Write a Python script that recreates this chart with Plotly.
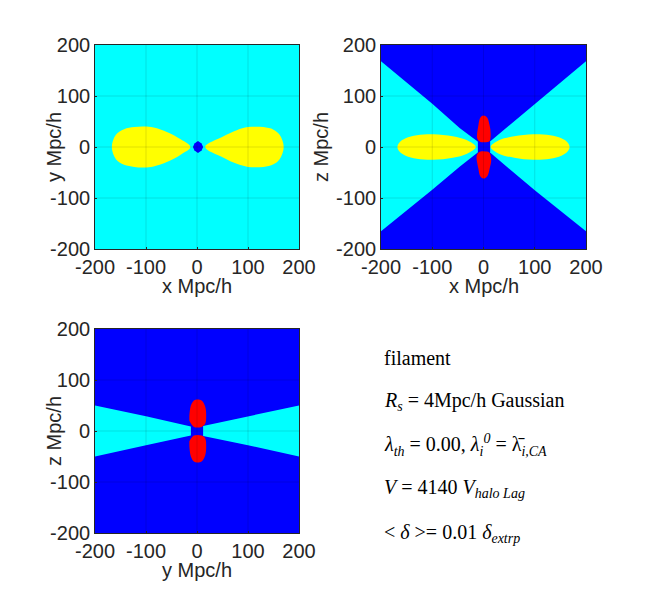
import plotly.graph_objects as go

WIDTH = 650
HEIGHT = 600
# the page body adds this much before the figure starts
PAGE_PAD = 8

CYAN = 'rgb(0,255,255)'
BLUE = 'rgb(0,0,255)'
YELLOW = 'rgb(255,255,0)'
RED = 'rgb(255,0,0)'

tick_vals = [-200, -100, 0, 100, 200]
tick_labels = ['-200', '-100', '0', '100', '200']

# x-y panel outlines
xy_lobe_right_x = [16, 52, 78, 100, 130, 150, 162, 170, 162, 150, 130, 100, 78, 52, 16]
xy_lobe_right_y = [0, 21, 33, 39, 39, 34, 24, 0, -24, -34, -39, -39, -33, -21, 0]
xy_lobe_left_x = [-13, -32, -58, -85, -104, -123, -143, -159, -167, -159, -143, -123, -104, -85, -58, -32, -13]
xy_lobe_left_y = [0, 15, 29, 38, 40, 39, 35, 24, 0, -24, -35, -39, -40, -38, -29, -15, 0]
xy_core_x = [2, 9, 12, 9, 2, -5, -8, -5, 2]
xy_core_y = [12, 7, 0, -7, -12, -7, 0, 7, 12]

# x-z panel outlines
xz_wedge_top_x = [-200, -100, -46, -10, 14, 50, 100, 200, 200, -200, -200]
xz_wedge_top_y = [168, 85, 37, 10, 12, 42, 84, 168, 200, 200, 168]
xz_wedge_bottom_x = [-200, -100, -46, -10, 14, 50, 100, 200, 200, -200, -200]
xz_wedge_bottom_y = [-165, -84, -38, -10, -12, -43, -85, -165, -200, -200, -165]
xz_core_x = [-11, 13, 13, -11, -11]
xz_core_y = [13, 13, -13, -13, 13]
xz_lobe_right_x = [14, 30, 60, 97, 130, 152, 164, 168, 164, 152, 130, 97, 60, 30, 14]
xz_lobe_right_y = [0, 13, 21, 25, 23, 17, 9, 0, -9, -17, -23, -25, -21, -13, 0]
xz_lobe_left_x = [-15, -32, -60, -98, -130, -152, -164, -168, -164, -152, -130, -98, -60, -32, -15]
xz_lobe_left_y = [0, 13, 21, 25, 23, 17, 9, 0, -9, -17, -23, -25, -21, -13, 0]
xz_red_top_x = [-12, -10, -6, 0, 7, 12, 14, 12, 7, -6, -12]
xz_red_top_y = [16, 42, 58, 62, 58, 42, 26, 12, 10, 10, 16]
xz_red_bottom_x = [-13, -10, -6, 0, 7, 12, 15, 12, 7, -6, -13]
xz_red_bottom_y = [-16, -42, -58, -62, -58, -42, -26, -12, -9, -9, -16]

# y-z panel outlines
yz_wedge_left_x = [-200, -100, -12, -12, -100, -200]
yz_wedge_left_y = [50, 29, 9, -9, -28, -50]
yz_wedge_right_x = [200, 100, 12, 12, 100, 200]
yz_wedge_right_y = [50, 29, 10, -10, -28, -50]
yz_red_top_x = [-15, -12, -6, 1, 9, 16, 18, 16, 9, -6, -15]
yz_red_top_y = [30, 50, 60, 62, 60, 48, 30, 14, 8, 8, 20]
yz_red_bottom_x = [-15, -12, -6, 1, 9, 16, 18, 16, 9, -6, -15]
yz_red_bottom_y = [-30, -50, -60, -62, -60, -48, -30, -14, -9, -9, -20]

# panel boxes in pixels: left, right, top, bottom
boxes = [(95, 299, 45, 249), (381, 586, 45, 249), (95, 299, 329, 533)]
panel_bg = [CYAN, CYAN, BLUE]
x_titles = ['x Mpc/h', 'x Mpc/h', 'y Mpc/h']
y_titles = ['y Mpc/h', 'z Mpc/h', 'z Mpc/h']
x_title_y = [286, 286, 570]
y_title_x = [54, 321, 54]

notes = [
    'filament',
    '<i>R<sub>s</sub></i> = 4Mpc/h Gaussian',
    '<i>λ<sub>th</sub></i> = 0.00, <i>λ<sub>i</sub><sup>0</sup></i> = λ̄<i><sub>i,CA</sub></i>',
    '<i>V</i> = 4140 <i>V<sub>halo Lag</sub></i>',
    '&lt; <i>δ</i> &gt;= 0.01 <i>δ<sub>extrp</sub></i>',
]
note_y = [358, 401, 445, 488, 533]

fig = go.Figure()


def add_poly(n, xs, ys, color, smooth=False):
    line = dict(width=0, color=color)
    if smooth:
        line['shape'] = 'spline'
    fig.add_trace(go.Scatter(x=xs, y=ys, mode='lines', fill='toself', fillcolor=color,
                             line=line, xaxis='x%d' % n, yaxis='y%d' % n,
                             hoverinfo='skip', showlegend=False))


def add_grid(n):
    # the grid sits over the colours in the original
    xs, ys = [], []
    for t in tick_vals[1:-1]:
        xs += [t, t, None, -200, 200, None]
        ys += [-200, 200, None, t, t, None]
    fig.add_trace(go.Scatter(x=xs, y=ys, mode='lines',
                             line=dict(width=0.7, color='rgba(0,0,0,0.17)'),
                             xaxis='x%d' % n, yaxis='y%d' % n,
                             hoverinfo='skip', showlegend=False))


def px_x(p):
    return (p - PAGE_PAD) / WIDTH


def px_y(p):
    return 1 - (p - PAGE_PAD) / HEIGHT


add_poly(1, xy_lobe_right_x, xy_lobe_right_y, YELLOW, True)
add_poly(1, xy_lobe_left_x, xy_lobe_left_y, YELLOW, True)
add_poly(1, xy_core_x, xy_core_y, BLUE)
add_grid(1)

add_poly(2, xz_wedge_top_x, xz_wedge_top_y, BLUE)
add_poly(2, xz_wedge_bottom_x, xz_wedge_bottom_y, BLUE)
add_poly(2, xz_core_x, xz_core_y, BLUE)
add_poly(2, xz_lobe_right_x, xz_lobe_right_y, YELLOW, True)
add_poly(2, xz_lobe_left_x, xz_lobe_left_y, YELLOW, True)
add_poly(2, xz_red_top_x, xz_red_top_y, RED, True)
add_poly(2, xz_red_bottom_x, xz_red_bottom_y, RED, True)
add_grid(2)

add_poly(3, yz_wedge_left_x, yz_wedge_left_y, CYAN)
add_poly(3, yz_wedge_right_x, yz_wedge_right_y, CYAN)
add_poly(3, yz_red_top_x, yz_red_top_y, RED, True)
add_poly(3, yz_red_bottom_x, yz_red_bottom_y, RED, True)
add_grid(3)

FONT = 'Liberation Sans, Arial, sans-serif'
INK = 'rgb(38,38,38)'
label_font = dict(family=FONT, size=20, color=INK)

layout = dict(
    width=WIDTH, height=HEIGHT, autosize=False,
    margin=dict(l=0, r=0, t=0, b=0, autoexpand=False),
    paper_bgcolor='white',
    showlegend=False,
    font=label_font,
    shapes=[],
    annotations=[],
)

for i, (left, right, top, bottom) in enumerate(boxes):
    n = i + 1
    axis = dict(range=[-200, 200], tickvals=tick_vals, ticktext=tick_labels, showgrid=False,
                zeroline=False, showline=True, mirror=True, linecolor=INK, linewidth=0.7,
                ticks='inside', ticklen=2, tickcolor=INK, tickwidth=0.7,
                tickfont=label_font)
    layout['xaxis%d' % n] = dict(axis, domain=[px_x(left), px_x(right)], anchor='y%d' % n, tickangle=0)
    layout['yaxis%d' % n] = dict(axis, domain=[px_y(bottom), px_y(top)], anchor='x%d' % n)
    layout['shapes'].append(dict(type='rect', xref='x%d' % n, yref='y%d' % n, x0=-200, x1=200,
                                 y0=-200, y1=200, fillcolor=panel_bg[i], line=dict(width=0),
                                 layer='below'))
    # axis titles overlap the tick label column, so they are placed by hand
    layout['annotations'].append(dict(text=x_titles[i], xref='paper', yref='paper',
                                      x=px_x((left + right) / 2), y=px_y(x_title_y[i]),
                                      xanchor='center', yanchor='middle', showarrow=False,
                                      font=label_font))
    layout['annotations'].append(dict(text=y_titles[i], xref='paper', yref='paper',
                                      x=px_x(y_title_x[i]), y=px_y((top + bottom) / 2),
                                      xanchor='center', yanchor='middle', showarrow=False,
                                      textangle=-90, font=label_font))

for text, y in zip(notes, note_y):
    layout['annotations'].append(dict(text=text, xref='paper', yref='paper', x=px_x(382),
                                      y=px_y(y), xanchor='left', yanchor='middle',
                                      showarrow=False,
                                      font=dict(family='Liberation Serif, serif', size=20, color='black')))

fig.update_layout(**layout)
fig.write_html("out.html")
